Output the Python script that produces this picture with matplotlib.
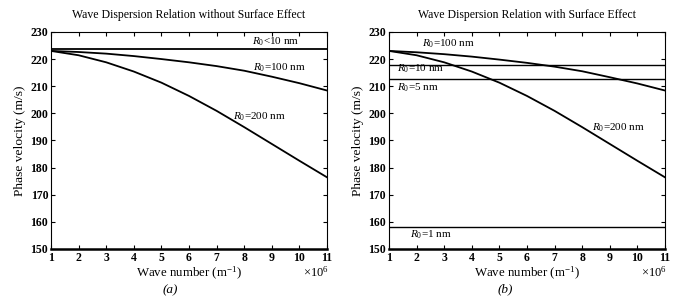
import matplotlib
matplotlib.use("Agg")
import matplotlib.pyplot as plt

plt.rcParams['font.family'] = ['Liberation Serif', 'DejaVu Serif']
plt.rcParams['mathtext.fontset'] = 'custom'
plt.rcParams['mathtext.rm'] = 'Liberation Serif'
plt.rcParams['mathtext.it'] = 'Liberation Serif:italic'

# wave number (x10^6 1/m)
k = [1, 2, 3, 4, 5, 6, 7, 8, 9, 10, 11]

# (a) without surface effect
a_small = [223.6] * 11                      # R0 < 10 nm
a_r100 = [223.0, 222.6, 222.0, 221.1, 220.0, 218.8, 217.4, 215.7, 213.5, 211.1, 208.4]
a_r200 = [223.0, 221.4, 218.8, 215.4, 211.3, 206.4, 200.9, 194.9, 188.7, 182.5, 176.4]

# (b) with surface effect
b_r100 = [223.0, 222.5, 221.8, 220.9, 219.8, 218.6, 217.2, 215.5, 213.3, 211.0, 208.4]
b_r10 = [217.9] * 11
b_r5 = [212.6] * 11
b_r1 = [158.2] * 11
b_r200 = [223.0, 221.4, 218.8, 215.4, 211.3, 206.4, 200.9, 194.9, 188.7, 182.5, 176.4]

titles = ["Wave Dispersion Relation without Surface Effect",
          "Wave Dispersion Relation with Surface Effect"]
captions = ["(a)", "(b)"]
xticks = list(range(1, 12))
yticks = list(range(150, 231, 10))

fig = plt.figure(figsize=(6.8, 3.07), dpi=100)
axA = fig.add_axes([0.075, 0.189, 0.406, 0.707])
axB = fig.add_axes([0.572, 0.189, 0.406, 0.707])

for ax, title in zip([axA, axB], titles):
    ax.set_xlim(1, 11)
    ax.set_ylim(150, 230)
    ax.set_xticks(xticks)
    ax.set_yticks(yticks)
    ax.tick_params(direction='in', length=3, width=0.8, top=True, right=True,
                   labelsize=8.5, pad=2)
    for lab in ax.get_xticklabels() + ax.get_yticklabels():
        lab.set_fontweight('bold')
    for s in ['top', 'left', 'right']:
        ax.spines[s].set_linewidth(0.8)
    ax.spines['bottom'].set_linewidth(1.8)
    ax.set_title(title, fontsize=8.5, pad=10)
    ax.set_xlabel("Wave number (m$^{-1}$)", fontsize=9.3, labelpad=1)
    ax.set_ylabel("Phase velocity (m/s)", fontsize=9.7, labelpad=3)
    ax.text(1.005, -0.106, r"$\times$10$^6$", transform=ax.transAxes, fontsize=9,
            ha='right', va='center')

lw = 1.3
axA.plot(k, a_small, color='black', lw=lw)
axA.plot(k, a_r100, color='black', lw=lw)
axA.plot(k, a_r200, color='black', lw=lw)
axA.text(8.27, 226.4, r"$R_0$<10 nm", fontsize=8, va='center')
axA.text(8.33, 216.8, r"$R_0$=100 nm", fontsize=8, va='center')
axA.text(7.6, 198.8, r"$R_0$=200 nm", fontsize=8, va='center')

axB.plot(k, b_r100, color='black', lw=lw)
axB.plot(k, b_r10, color='black', lw=1.0)
axB.plot(k, b_r5, color='black', lw=1.0)
axB.plot(k, b_r1, color='black', lw=1.0)
axB.plot(k, b_r200, color='black', lw=lw)
axB.text(2.2, 225.6, r"$R_0$=100 nm", fontsize=8, va='center')
axB.text(1.28, 216.4, r"$R_0$=10 nm", fontsize=8, va='center')
axB.text(1.28, 209.6, r"$R_0$=5 nm", fontsize=8, va='center')
axB.text(8.35, 194.8, r"$R_0$=200 nm", fontsize=8, va='center')
axB.text(1.76, 155.2, r"$R_0$=1 nm", fontsize=8, va='center')

fig.text(170 / 680, 1 - 290 / 307, captions[0], fontsize=9.5, style='italic',
         ha='center', va='center')
fig.text(505 / 680, 1 - 289 / 307, captions[1], fontsize=9.5, style='italic',
         ha='center', va='center')

fig.savefig("out.png", dpi=100)
